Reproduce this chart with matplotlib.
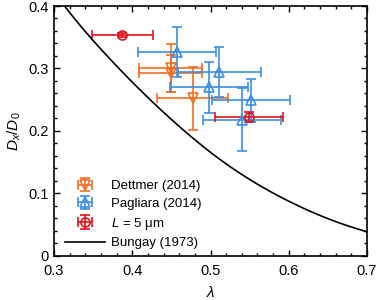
import matplotlib
matplotlib.use("Agg")
import matplotlib.pyplot as plt
from matplotlib.ticker import MultipleLocator, FuncFormatter

plt.rcParams["font.family"] = ["Liberation Sans", "DejaVu Sans"]
plt.rcParams["mathtext.fontset"] = "custom"
plt.rcParams["mathtext.rm"] = "Liberation Sans"
plt.rcParams["mathtext.it"] = "Liberation Sans:italic"

# ---- data ----
dett_lam  = [0.449, 0.449, 0.477]
dett_D    = [0.301, 0.292, 0.252]
dett_xerr = [0.040, 0.040, 0.045]
dett_yerr = [0.038, 0.030, 0.050]

pag_lam  = [0.457, 0.511, 0.498, 0.552, 0.540]
pag_D    = [0.327, 0.294, 0.270, 0.249, 0.218]
pag_xerr = [0.050, 0.053, 0.050, 0.050, 0.050]
pag_yerr = [0.040, 0.040, 0.041, 0.034, 0.050]

l5_lam  = [0.387, 0.549]
l5_D    = [0.354, 0.223]
l5_xerr = [0.039, 0.043]
l5_yerr = [0.003, 0.008]

bung_lam = [0.30, 0.3125, 0.325, 0.3375, 0.35, 0.3625, 0.375, 0.3875, 0.40,
            0.4125, 0.425, 0.4375, 0.45, 0.4625, 0.475, 0.4875, 0.50, 0.5125,
            0.525, 0.5375, 0.55, 0.5625, 0.575, 0.5875, 0.60, 0.6125, 0.625,
            0.6375, 0.65, 0.6625, 0.675, 0.6875, 0.70]
bung_D   = [0.424, 0.4015, 0.3816, 0.3627, 0.3446, 0.3274, 0.3105, 0.2941, 0.2781,
            0.2626, 0.2474, 0.2327, 0.2184, 0.2045, 0.1911, 0.1782, 0.1657, 0.1540,
            0.1428, 0.1323, 0.1223, 0.1129, 0.1040, 0.0955, 0.0875, 0.0799, 0.0727,
            0.0660, 0.0596, 0.0537, 0.0483, 0.0433, 0.0385]

C_ORANGE = "#f37021"
C_BLUE   = "#3b8fe0"
C_RED    = "#e3121b"

fig = plt.figure(figsize=(3.79, 3.0), dpi=100)
ax = fig.add_axes([0.1425, 0.147, 0.826, 0.833])

eb_kw = dict(linestyle="none", markerfacecolor="none", markersize=6.5,
             elinewidth=1.2, capsize=3.5, capthick=1.2, markeredgewidth=1.2)
h_d = ax.errorbar(dett_lam, dett_D, xerr=dett_xerr, yerr=dett_yerr, fmt="v",
                  color=C_ORANGE, label="Dettmer (2014)", **eb_kw)
h_p = ax.errorbar(pag_lam, pag_D, xerr=pag_xerr, yerr=pag_yerr, fmt="^",
                  color=C_BLUE, label="Pagliara (2014)", **eb_kw)
h_l = ax.errorbar(l5_lam, l5_D, xerr=l5_xerr, yerr=l5_yerr, fmt="o",
                  color=C_RED, label="$L$ = 5 μm", **eb_kw)
h_b, = ax.plot(bung_lam, bung_D, color="black", lw=1.2, label="Bungay (1973)")

ax.set_xlim(0.3, 0.7)
ax.set_ylim(0, 0.4)
ax.xaxis.set_major_locator(MultipleLocator(0.1))
ax.xaxis.set_minor_locator(MultipleLocator(0.02))
ax.yaxis.set_major_locator(MultipleLocator(0.1))
ax.yaxis.set_minor_locator(MultipleLocator(0.02))
ax.xaxis.set_major_formatter(FuncFormatter(lambda v, p: f"{v:.1f}"))
ax.yaxis.set_major_formatter(FuncFormatter(lambda v, p: "0" if abs(v) < 1e-9 else f"{v:.1f}"))
ax.tick_params(which="both", direction="in", top=True, right=True, labelsize=10.5, width=1)
ax.tick_params(which="major", length=4)
ax.tick_params(which="minor", length=2)
ax.tick_params(axis="x", pad=6)
ax.tick_params(axis="y", pad=4)
for s in ax.spines.values():
    s.set_linewidth(1.2)

ax.set_xlabel(r"$\lambda$", fontsize=11, labelpad=5)
ax.set_ylabel(r"$D_x/D_0$", fontsize=11, labelpad=4)

ax.legend([h_d, h_p, h_l, h_b],
          ["Dettmer (2014)", "Pagliara (2014)", "$L$ = 5 μm", "Bungay (1973)"],
          loc="lower left", frameon=False, fontsize=9.5, handlelength=3.0,
          handletextpad=0.5, labelspacing=0.42, borderaxespad=0.1,
          bbox_to_anchor=(0.015, 0.0))

fig.savefig("out.png", dpi=100)
